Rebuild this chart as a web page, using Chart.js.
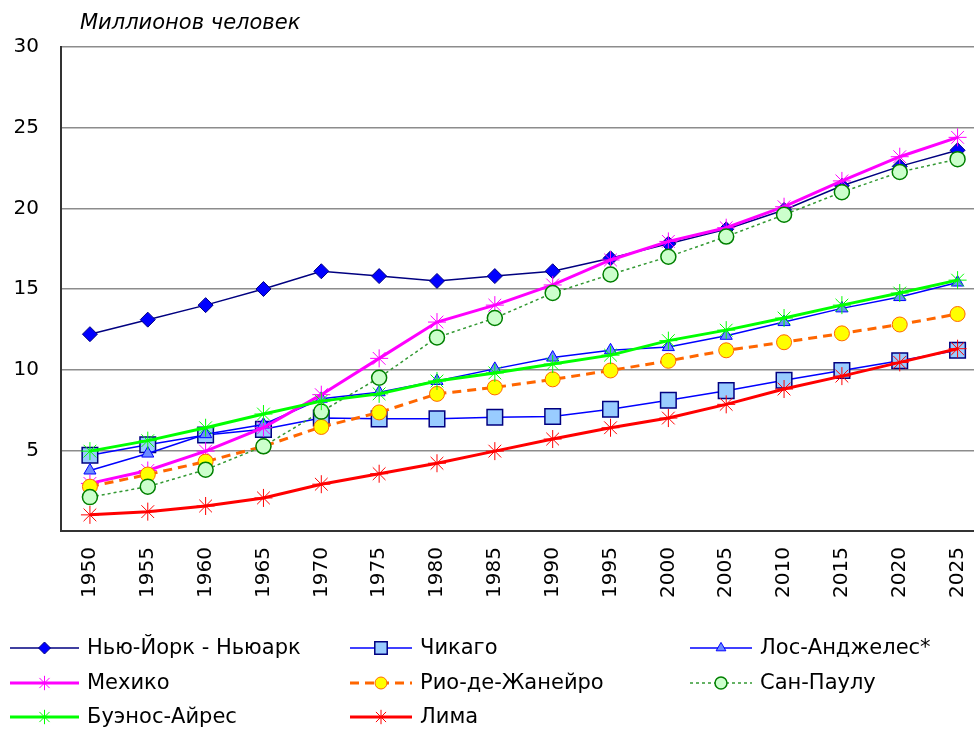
<!DOCTYPE html>
<html>
<head>
<meta charset="utf-8">
<script src="https://cdn.jsdelivr.net/npm/chart.js@4/dist/chart.umd.min.js"></script>
<style>
  html, body { margin: 0; padding: 0; background: #fff; overflow: hidden; }
  #wrap { width: 999px; height: 729px; }
</style>
</head>
<body>
<div id="wrap"><canvas id="chart" width="999" height="729"></canvas></div>
<script>
const years = ["1950", "1955", "1960", "1965", "1970", "1975", "1980", "1985", "1990", "1995", "2000", "2005", "2010", "2015", "2020", "2025"];

const newYork = [12.2, 13.1, 14.0, 15.0, 16.1, 15.8, 15.5, 15.8, 16.1, 16.9, 17.8, 18.7, 19.9, 21.4, 22.6, 23.6];
const chicago = [4.7, 5.35, 5.95, 6.3, 7.0, 6.95, 6.95, 7.05, 7.1, 7.55, 8.1, 8.7, 9.35, 9.95, 10.55, 11.2];
const losAngeles = [3.75, 4.8, 6.0, 6.6, 8.2, 8.6, 9.3, 10.05, 10.75, 11.2, 11.4, 12.1, 12.95, 13.8, 14.5, 15.4];
const mexico = [2.95, 3.75, 4.95, 6.4, 8.45, 10.7, 12.95, 14.0, 15.25, 16.8, 17.95, 18.8, 20.1, 21.7, 23.2, 24.4];
const rio = [2.75, 3.5, 4.3, 5.25, 6.45, 7.35, 8.5, 8.9, 9.4, 9.95, 10.55, 11.2, 11.7, 12.25, 12.8, 13.45];
const saoPaulo = [2.1, 2.75, 3.8, 5.25, 7.4, 9.5, 12.0, 13.2, 14.75, 15.9, 17.0, 18.25, 19.6, 21.0, 22.25, 23.05];
const buenosAires = [4.95, 5.6, 6.4, 7.25, 8.05, 8.5, 9.3, 9.8, 10.35, 10.9, 11.8, 12.45, 13.2, 14.0, 14.75, 15.55];
const lima = [1.0, 1.2, 1.55, 2.05, 2.9, 3.55, 4.2, 4.95, 5.7, 6.4, 7.0, 7.85, 8.8, 9.6, 10.45, 11.3];

const seriesNames = ["Нью-Йорк - Ньюарк", "Чикаго", "Лос-Анджелес*", "Мехико", "Рио-де-Жанейро", "Сан-Паулу", "Буэнос-Айрес", "Лима"];
const yTicks = [5, 10, 15, 20, 25, 30];
const yTitle = "Миллионов человек";

const FONT = "'DejaVu Sans', Verdana, sans-serif";

const datasets = [
  { label: seriesNames[0], data: newYork, borderColor: "#000080", borderWidth: 1.5,
    pointStyle: "rectRot", pointRadius: 7.5, pointBackgroundColor: "#0000ff", pointBorderColor: "#000080", pointBorderWidth: 1 },
  { label: seriesNames[1], data: chicago, borderColor: "#0000ff", borderWidth: 1.5,
    pointStyle: "rect", pointRadius: 11, pointBackgroundColor: "#99ccff", pointBorderColor: "#000080", pointBorderWidth: 1.5 },
  { label: seriesNames[2], data: losAngeles, borderColor: "#0000ff", borderWidth: 1.5,
    pointStyle: "triangle", pointRadius: 7, pointBackgroundColor: "#6b8cff", pointBorderColor: "#0000ff", pointBorderWidth: 1 },
  { label: seriesNames[3], data: mexico, borderColor: "#ff00ff", borderWidth: 3,
    pointStyle: "star", pointRadius: 9, pointBackgroundColor: "#ff00ff", pointBorderColor: "#ff00ff", pointBorderWidth: 1 },
  { label: seriesNames[4], data: rio, borderColor: "#ff6600", borderWidth: 3, borderDash: [9, 6],
    pointStyle: "circle", pointRadius: 7.5, pointBackgroundColor: "#ffff00", pointBorderColor: "#ff6600", pointBorderWidth: 1 },
  { label: seriesNames[5], data: saoPaulo, borderColor: "#339933", borderWidth: 1.5, borderDash: [3, 3],
    pointStyle: "circle", pointRadius: 7.5, pointBackgroundColor: "#ccffcc", pointBorderColor: "#008000", pointBorderWidth: 1.5 },
  { label: seriesNames[6], data: buenosAires, borderColor: "#00ff00", borderWidth: 3,
    pointStyle: "star", pointRadius: 9, pointBackgroundColor: "#00ff00", pointBorderColor: "#00ff00", pointBorderWidth: 1 },
  { label: seriesNames[7], data: lima, borderColor: "#ff0000", borderWidth: 3,
    pointStyle: "star", pointRadius: 9, pointBackgroundColor: "#ff0000", pointBorderColor: "#ff0000", pointBorderWidth: 1 },
];
// later series on top, like the original
datasets.forEach((ds, i) => {
  ds.order = datasets.length - i;
  ds.fill = false;
  ds.tension = 0;
});

// legend in 3 columns under the axis
const legendLineX = [10, 350, 690];
const legendTextX = [87, 420, 760];
const legendRows = [648, 683, 717];

const titleAndLegend = {
  id: "titleAndLegend",
  afterDraw(chart) {
    const { ctx } = chart;
    ctx.save();
    ctx.fillStyle = "#000";
    ctx.font = "italic 21px " + FONT;
    ctx.textBaseline = "middle";
    ctx.textAlign = "left";
    ctx.fillText(yTitle, 80, 24);

    chart.data.datasets.forEach((ds, i) => {
      const col = i % 3;
      const x = legendLineX[col];
      const x2 = legendTextX[col] - 8;
      const y = legendRows[Math.floor(i / 3)];
      ctx.save();
      ctx.strokeStyle = ds.borderColor;
      ctx.lineWidth = ds.borderWidth;
      ctx.setLineDash(ds.borderDash || []);
      ctx.beginPath();
      ctx.moveTo(x, y);
      ctx.lineTo(x2, y);
      ctx.stroke();
      ctx.setLineDash([]);
      ctx.fillStyle = ds.pointBackgroundColor;
      ctx.strokeStyle = ds.pointBorderColor;
      ctx.lineWidth = ds.pointBorderWidth;
      Chart.helpers.drawPoint(ctx, {
        pointStyle: ds.pointStyle,
        radius: ds.pointRadius * 0.8,
        borderWidth: ds.pointBorderWidth,
        rotation: 0,
      }, (x + x2) / 2, y);
      ctx.restore();
      ctx.fillStyle = "#000";
      ctx.font = "21px " + FONT;
      ctx.fillText(ds.label, legendTextX[col], y + 1);
    });
    ctx.restore();
  },
};

new Chart(document.getElementById("chart").getContext("2d"), {
  type: "line",
  data: { labels: years, datasets },
  options: {
    responsive: false,
    animation: false,
    layout: { padding: { top: 47, left: 0, right: 0, bottom: 0 } },
    plugins: {
      legend: { display: false },
      tooltip: { enabled: false },
    },
    scales: {
      x: {
        offset: true,
        grid: { display: false },
        border: { display: true, color: "#333", width: 2 },
        ticks: {
          color: "#000",
          font: { size: 20, family: FONT },
          minRotation: 90,
          maxRotation: 90,
          padding: 8,
          autoSkip: false,
        },
        afterFit: (scale) => {
          scale.height = 198;
          scale.paddingLeft = 0;
          scale.paddingRight = 0;
        },
      },
      y: {
        min: 0,
        max: 30,
        grid: {
          color: (c) => (c.tick && c.tick.value === 0 ? "rgba(0,0,0,0)" : "#8c8c8c"),
          lineWidth: 1.5,
          drawTicks: false,
        },
        border: { display: true, color: "#333", width: 2 },
        afterBuildTicks: (scale) => {
          scale.ticks = [0].concat(yTicks).map((v) => ({ value: v }));
        },
        ticks: {
          color: "#000",
          font: { size: 20, family: FONT },
          padding: 22,
          callback: (value) => (value === 0 ? "" : value),
        },
        afterFit: (scale) => {
          scale.width = 61;
          scale.paddingTop = 0;
          scale.paddingBottom = 0;
        },
      },
    },
  },
  plugins: [titleAndLegend],
});
</script>
</body>
</html>
